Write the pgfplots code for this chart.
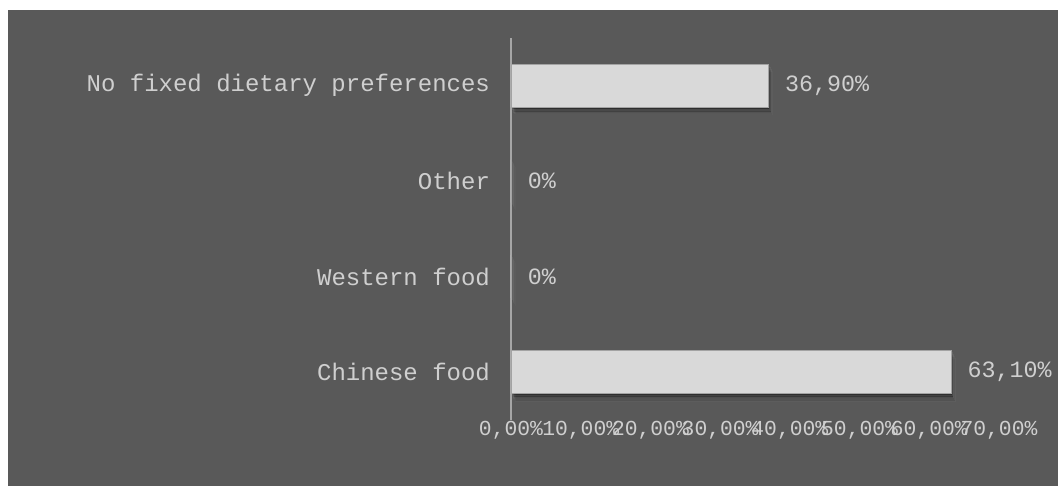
\documentclass[border=0pt]{standalone}
\usepackage{fontspec}
\setmainfont{Liberation Mono}
\usepackage{pgfplots}
\pgfplotsset{compat=1.18}
\usetikzlibrary{shadows}
\definecolor{bg}{HTML}{595959}
\definecolor{barc}{HTML}{D9D9D9}
\definecolor{txt}{HTML}{CFCFCF}
\definecolor{axl}{HTML}{A6A6A6}
\begin{document}
\begin{tikzpicture}
\useasboundingbox (0,0) rectangle (793.5pt,364.5pt);
\fill[white] (0,0) rectangle (793.5pt,364.5pt);
\fill[bg] (6pt,0) rectangle (793.5pt,357pt);
\begin{axis}[
  at={(383.25pt,49.5pt)}, anchor=south west,
  scale only axis, width=366pt, height=286.5pt,
  xmin=0, xmax=70, ymin=-0.5, ymax=3.5,
  xbar, bar width=32.25pt,
  axis lines*=left,
  separate axis lines,
  x axis line style={draw=none},
  y axis line style={draw=axl, line width=1.3pt},
  tick style={draw=none},
  xtick={0,10,20,30,40,50,60,70},
  xticklabels={{0,00\%},{10,00\%},{20,00\%},{30,00\%},{40,00\%},{50,00\%},{60,00\%},{70,00\%}},
  ytick={0,1,2,3},
  yticklabels={Chinese food,Western food,Other,No fixed dietary preferences},
  xticklabel style={font=\fontsize{16}{19}\selectfont, text=txt, yshift=2.5pt},
  yticklabel style={font=\fontsize{18}{21}\selectfont, text=txt, xshift=-8pt},
  nodes near coords,
  nodes near coords align={horizontal},
  point meta=explicit symbolic,
  nodes near coords style={font=\fontsize{17.5}{21}\selectfont, text=txt, anchor=west, xshift=9pt},
  clip=false,
]
\addplot[fill=barc, draw=barc!75!black, line width=0.5pt,
  drop shadow={shadow xshift=3pt, shadow yshift=-5.5pt, opacity=0.07, fill=black},
  drop shadow={shadow xshift=2.5pt, shadow yshift=-4.5pt, opacity=0.09, fill=black},
  drop shadow={shadow xshift=2pt, shadow yshift=-3.5pt, opacity=0.11, fill=black},
  drop shadow={shadow xshift=1.5pt, shadow yshift=-2.5pt, opacity=0.14, fill=black},
  drop shadow={shadow xshift=1pt, shadow yshift=-1.5pt, opacity=0.18, fill=black}]
  coordinates {(63.1,0) [63,10\%] (0,1) [0\%] (0,2) [0\%] (36.9,3) [36,90\%]};
\end{axis}
\end{tikzpicture}
\end{document}
